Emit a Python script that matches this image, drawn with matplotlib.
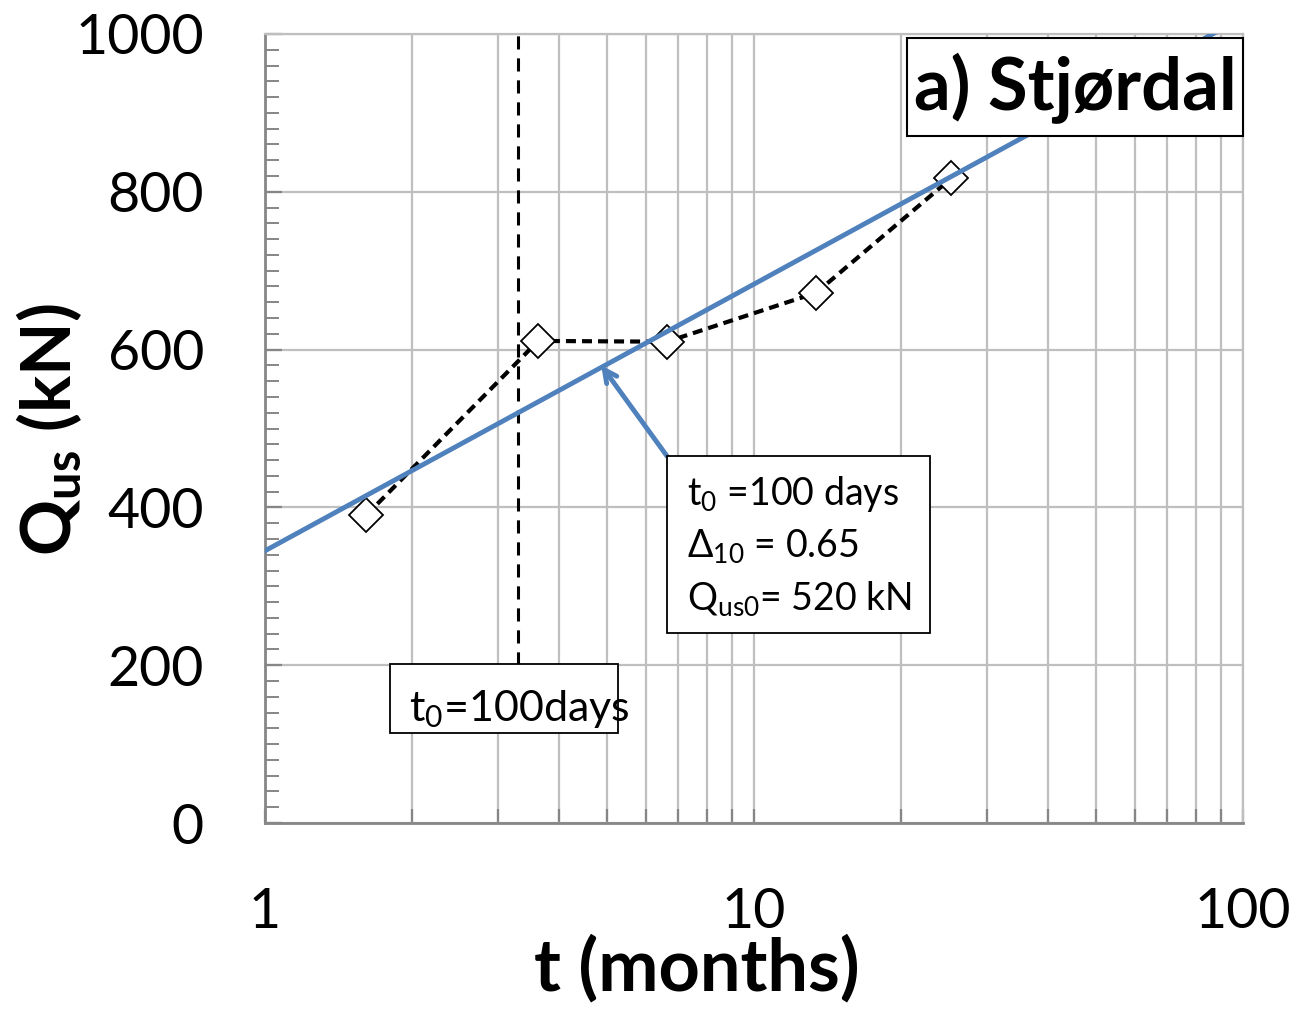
import matplotlib
matplotlib.use("Agg")
import matplotlib.pyplot as plt
from matplotlib.patches import Rectangle
from matplotlib.ticker import FixedLocator, LogLocator, NullFormatter

plt.rcParams['font.family'] = ['Lato', 'DejaVu Sans']
plt.rcParams['mathtext.default'] = 'regular'

# measured pile capacity
t_months = [1.61, 3.62, 6.64, 13.4, 25.3]
q_us = [390, 611, 610, 672, 817]

# fitted line Q = Qus0 * (1 + D10 * log(t/t0))
fit_t = [1, 100]
fit_q = [345, 1021]

t0 = 100 / 30.4          # 100 days in months
t0_line_q = [200, 1000]
arrow_tip = (4.87, 580)

y_ticks = [0, 200, 400, 600, 800, 1000]
x_ticks = [1, 10, 100]
x_ticklabels = ['1', '10', '100']

grid_col = '#bfbfbf'
tick_col = '#868686'
blue = '#4f81bd'

fig = plt.figure(figsize=(12.98, 10.11), dpi=100)
ax = fig.add_axes([265 / 1298, 188 / 1011, 978 / 1298, 789 / 1011])

ax.set_xscale('log')
ax.set_xlim(1, 100)
ax.set_ylim(0, 1000)

ax.set_yticks(y_ticks)
ax.yaxis.set_minor_locator(FixedLocator([v for v in range(0, 1001, 20) if v % 200]))
ax.set_xticks(x_ticks)
ax.set_xticklabels(x_ticklabels)
ax.xaxis.set_minor_locator(LogLocator(base=10, subs=range(2, 10)))
ax.xaxis.set_minor_formatter(NullFormatter())

ax.grid(True, which='major', axis='both', color=grid_col, lw=1.6, zorder=0)
ax.grid(True, which='minor', axis='x', color=grid_col, lw=1.6, zorder=0)
ax.set_axisbelow(True)

ax.tick_params(axis='y', which='major', direction='in', length=12, width=1.6,
               color=tick_col, labelsize=40, pad=44)
ax.tick_params(axis='y', which='minor', direction='in', length=10, width=1.4,
               color=tick_col)
ax.tick_params(axis='x', which='both', direction='in', length=10, width=1.6,
               color=tick_col, labelsize=40, pad=46)

for side in ['left', 'bottom']:
    ax.spines[side].set_color(tick_col)
    ax.spines[side].set_linewidth(2)
for side in ['top', 'right']:
    ax.spines[side].set_color(grid_col)
    ax.spines[side].set_linewidth(1.6)

ax.set_xlabel('t (months)', fontsize=52, fontweight='bold')
ax.xaxis.set_label_coords((697 - 265) / 978, (823 - 935) / 789)
ax.set_ylabel('Q$_{us}$ (kN)', fontsize=50, fontweight='bold')
ax.yaxis.label.set_va('center')
ax.yaxis.set_label_coords((49 - 265) / 978, (823 - 430) / 789)

# t0 marker line
ax.plot([t0, t0], t0_line_q, color='black', ls=(0, (4.3, 2.9)), lw=2.2, zorder=3)

# data
ax.plot(t_months, q_us, color='black', ls=(0, (2.4, 1.45)), lw=3, marker='D',
        ms=17, mfc='white', mec='black', mew=1.3, zorder=4)

# fit
ax.plot(fit_t, fit_q, color=blue, lw=3.5, zorder=5)


def box(x0, y0, x1, y1, lw=1.3):
    ax.add_patch(Rectangle((x0, y0), x1 - x0, y1 - y0, transform=ax.transAxes,
                           fc='white', ec='black', lw=lw, zorder=6, clip_on=False))


# title box
box(0.6564, 0.8707, 1.0, 0.9949, lw=1.5)
ax.text(0.829, 0.931, 'a) Stjørdal', transform=ax.transAxes, fontsize=52,
        fontweight='bold', ha='center', va='center', zorder=7)

# parameter box + arrow
ax.annotate('', xy=arrow_tip, xycoords='data', xytext=(0.411, 0.4651),
            textcoords='axes fraction',
            arrowprops=dict(arrowstyle='->,head_length=0.9,head_width=0.45',
                            color=blue, lw=3.5, shrinkA=0, shrinkB=0), zorder=5)
box(0.411, 0.2408, 0.680, 0.4651)
lines = ['t$_0$ =100 days', '$\\Delta_{10}$ = 0.65', 'Q$_{us0}$= 520 kN']
for i, s in enumerate(lines):
    ax.text(0.4315, (823 - 494 - 52 * i) / 789, s, transform=ax.transAxes,
            fontsize=27, ha='left', va='center', zorder=7)

# t0 label box
box(0.1278, 0.114, 0.361, 0.2015)
ax.text(0.147, 0.1445, 't$_0$=100days', transform=ax.transAxes, fontsize=31,
        ha='left', va='center', zorder=7)

fig.savefig('out.png', dpi=100)
